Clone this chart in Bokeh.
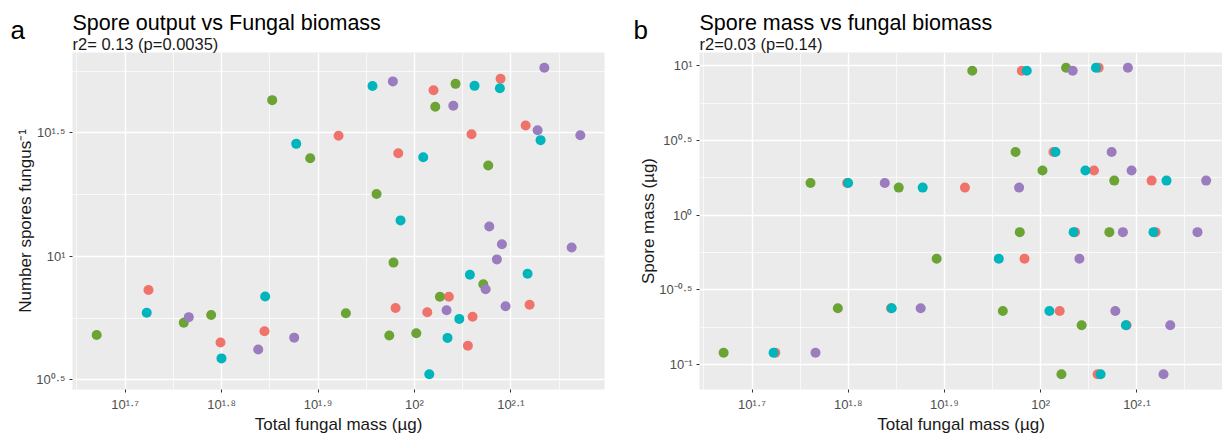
from bokeh.plotting import figure
from bokeh.layouts import row
from bokeh.models import FixedTicker, CustomJSTickFormatter, Title, Label, Range1d
from bokeh.embed import file_html
from bokeh.resources import INLINE

# ---- data (log10 values) ----
# 15 fungal species (same order in every list); spore mass per species (log10 ug)
spore_mass = [0.216, 0.185, -0.291, -0.623, -0.921, 0.967, 0.987, 0.424,
              0.299, 0.232, -0.113, -0.113, -0.641, -0.737, -1.064]

biomass_red = [1.7989, 1.9213, 1.9832, 1.8445, 1.7242, 1.9804, 2.0603, 2.0133,
               2.0554, 2.1153, 2.0357, 2.1194, 2.0198, 2.0893, 2.0592]
spores_red = [0.651, 1.489, 1.418, 0.697, 0.864, 0.791, 0.756, 0.774,
              0.638, 1.530, 0.837, 0.804, 1.673, 1.720, 1.495]

biomass_green = [1.7608, 1.8525, 1.8919, 1.7892, 1.6705, 1.9289, 2.0264, 1.9739,
                 2.0019, 2.0765, 1.9783, 2.0714, 1.9607, 2.0426, 2.0216]
spores_green = [0.731, 1.633, 1.398, 0.763, 0.682, 0.770, 0.837, 0.680,
                0.689, 1.368, 0.975, 0.887, 1.253, 1.699, 1.606]

biomass_cyan = [1.7999, 1.8774, 1.9565, 1.8452, 1.7224, 1.9856, 2.0575, 2.0154,
                2.0465, 2.1308, 2.0343, 2.1173, 2.0091, 2.0886, 2.0623]
spores_cyan = [0.587, 1.456, 1.690, 0.838, 0.772, 1.146, 0.926, 0.523,
               0.747, 1.471, 0.670, 0.930, 1.402, 1.681, 1.691]

biomass_purple = [1.8380, 1.9776, 2.0403, 1.8753, 1.7660, 2.0333, 2.0907, 2.0738,
                  2.0945, 2.1720, 2.0855, 2.1630, 2.0776, 2.1347, 2.1277]
spores_purple = [0.623, 1.709, 1.610, 0.671, 0.754, 0.782, 1.049, 0.867,
                 0.798, 1.491, 0.988, 1.036, 1.121, 1.764, 1.511]

x_ticks = [1.7, 1.8, 1.9, 2.0, 2.1]
x_minor = [1.65, 1.75, 1.85, 1.95, 2.05, 2.15]
ya_ticks = [0.5, 1.0, 1.5]
ya_minor = [0.75, 1.25, 1.75]
yb_ticks = [-1.0, -0.5, 0.0, 0.5, 1.0]
yb_minor = [-0.75, -0.25, 0.25, 0.75]

series = [
    ("#F0736B", biomass_red, spores_red),
    ("#6BA334", biomass_green, spores_green),
    ("#00B5BB", biomass_cyan, spores_cyan),
    ("#9B7CBE", biomass_purple, spores_purple),
]

FONT = "Liberation Sans"

fmt_code = """
const sup = {"0":"\u2070","1":"\u00b9","2":"\u00b2","3":"\u00b3","4":"\u2074",
             "5":"\u2075","6":"\u2076","7":"\u2077","8":"\u2078","9":"\u2079",
             "-":"\u207b",".":"\u00b7"};
const v = Math.round(tick * 100) / 100;
const s = v.toString();
let out = "";
for (const c of s) { out += (sup[c] !== undefined ? sup[c] : c); }
return "10" + out;
"""


def expand(vals, frac=0.05):
    lo, hi = min(vals), max(vals)
    d = (hi - lo) * frac
    return lo - d, hi + d


all_x = biomass_red + biomass_green + biomass_cyan + biomass_purple
all_ya = spores_red + spores_green + spores_cyan + spores_purple
x0, x1 = expand(all_x)
ya0, ya1 = expand(all_ya)
yb0, yb1 = expand(spore_mass)


def style(p, xt, xm, yt, ym, xlabel, ylabel, ystand):
    p.background_fill_color = "#EBEBEB"
    p.border_fill_color = "white"
    p.outline_line_color = None
    p.xaxis.ticker = FixedTicker(ticks=xt, minor_ticks=xm)
    p.yaxis.ticker = FixedTicker(ticks=yt, minor_ticks=ym)
    for ax in (p.xaxis[0], p.yaxis[0]):
        ax.formatter = CustomJSTickFormatter(code=fmt_code)
        ax.axis_line_color = None
        ax.major_tick_line_color = "#333333"
        ax.major_tick_out = 3
        ax.major_tick_in = 0
        ax.minor_tick_line_color = None
        ax.major_label_text_font = FONT
        ax.major_label_text_font_size = "13px"
        ax.major_label_text_color = "#4D4D4D"
        ax.major_label_standoff = 3
        ax.axis_label_text_font = FONT
        ax.axis_label_text_font_size = "17px"
        ax.axis_label_text_font_style = "normal"
        ax.axis_label_text_color = "#1A1A1A"
    p.yaxis.axis_label = ylabel
    p.yaxis.axis_label_standoff = ystand
    # x-axis title drawn as a bottom title so it can sit close to the edge
    xt_title = Title(text=xlabel, text_font=FONT, text_font_size="17px",
                     text_font_style="normal", text_color="#1A1A1A",
                     align="center", vertical_align="top", standoff=0)
    p.add_layout(xt_title, "below")
    for g in (p.xgrid[0], p.ygrid[0]):
        g.grid_line_color = "white"
        g.grid_line_width = 1.4
        g.minor_grid_line_color = "white"
        g.minor_grid_line_width = 0.7


def add_titles(p, title, subtitle):
    p.title.text = title
    p.title.text_font = FONT
    p.title.text_font_size = "21.5px"
    p.title.text_font_style = "normal"
    p.title.text_color = "#000000"
    p.title.standoff = -2
    p.title.align = "left"
    sub = Title(text=subtitle, text_font=FONT, text_font_size="16.5px",
                text_font_style="normal", text_color="#1A1A1A", align="left", standoff=-1)
    p.add_layout(sub, "above")


def add_letter(p, letter, side, dx):
    lab = Label(x=dx, y=p.y_range.end, x_units="screen", y_units="data", y_offset=23,
                text=letter, text_font=FONT, text_font_size="26px",
                text_color="#000000", text_baseline="alphabetic")
    p.add_layout(lab, side)


pa = figure(width=620, height=436, output_backend="svg", toolbar_location=None,
            x_range=Range1d(x0, x1), y_range=Range1d(ya0, ya1),
            min_border_left=72, min_border_right=16, min_border_top=52, min_border_bottom=47,
            title="")
style(pa, x_ticks, x_minor, ya_ticks, ya_minor,
      "Total fungal mass (\u00b5g)", "Number spores fungus\u207b\u00b9", -2)
for color, xs, ys in series:
    pa.scatter(xs, ys, size=10, fill_color=color, line_color=None)
add_titles(pa, "Spore output vs Fungal biomass", "r2= 0.13 (p=0.0035)")
add_letter(pa, "a", "right", -594)

pb = figure(width=602, height=436, output_backend="svg", toolbar_location=None,
            x_range=Range1d(x0, 2.189), y_range=Range1d(yb0, yb1),
            min_border_left=79, min_border_right=0, min_border_top=52, min_border_bottom=47,
            title="")
style(pb, x_ticks, x_minor, yb_ticks, yb_minor,
      "Total fungal mass (\u00b5g)", "Spore mass (\u00b5g)", -2)
for color, xs, ys in series:
    pb.scatter(xs, spore_mass, size=10, fill_color=color, line_color=None)
add_titles(pb, "Spore mass vs fungal biomass", "r2=0.03 (p=0.14)")
add_letter(pb, "b", "left", 11)

layout = row(pa, pb)
open("out.html", "w").write(file_html(layout, INLINE))
